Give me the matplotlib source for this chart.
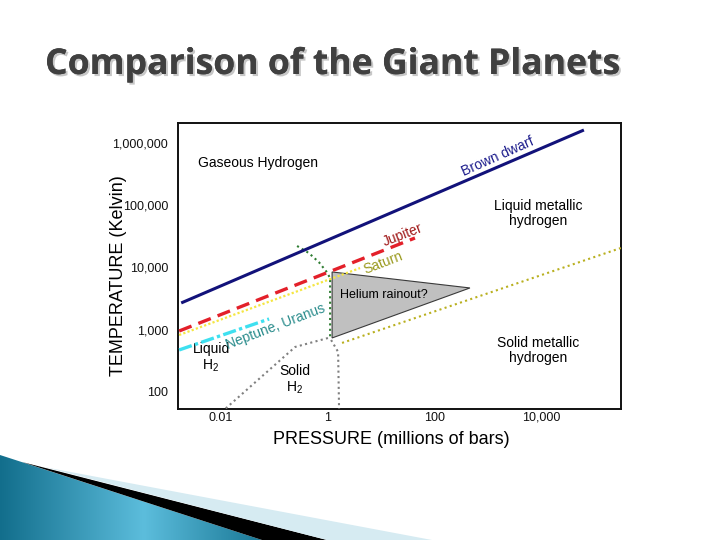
import numpy as np
import matplotlib
matplotlib.use("Agg")
import matplotlib.pyplot as plt
import matplotlib.patheffects as pe
from matplotlib.patches import Polygon

plt.rcParams['font.family'] = ['Liberation Sans', 'DejaVu Sans']
plt.rcParams['mathtext.fontset'] = 'custom'
plt.rcParams['mathtext.rm'] = 'Liberation Sans'
plt.rcParams['mathtext.it'] = 'Liberation Sans:italic'

# ---- data (pressure in millions of bars, temperature in K) ----
brown_P = [0.00186, 61300]
brown_T = [2680, 1.62e6]
jupiter_P = [0.0017, 43]
jupiter_T = [948, 29700]
saturn_P = [0.0017, 4.06]
saturn_T = [818, 9770]
neptune_P = [0.0017, 0.0813]
neptune_T = [470, 1480]
mol_met_P = [0.271, 0.45, 0.70, 0.95, 1.12, 1.12]
mol_met_T = [22100, 17000, 12000, 8600, 6760, 733]
helium_P = [1.22, 457, 1.22]
helium_T = [8440, 4670, 733]
solid_h2_P = [0.0106, 0.249, 1.03]
solid_h2_T = [47.3, 525, 733]
solid_met_P = [1.17, 1.58, 1.65]
solid_met_T = [680, 437, 47]
liq_sol_met_P = [1.87, 300000]
liq_sol_met_T = [610, 20500]

x_ticks = [0.01, 1, 100, 10000]
x_ticklabels = ['0.01', '1', '100', '10,000']
y_ticks = [100, 1000, 10000, 100000, 1000000]
y_ticklabels = ['100', '1,000', '10,000', '100,000', '1,000,000']

fig = plt.figure(figsize=(7.2, 5.4), dpi=100)
fig.patch.set_facecolor('white')

# ---- decoration (figure pixel coords) ----
deco = fig.add_axes([0, 0, 1, 1], zorder=0)
deco.set_xlim(0, 720)
deco.set_ylim(540, 0)
deco.axis('off')
teal_poly = Polygon([(0, 455), (262, 540), (0, 540)], closed=True,
                    facecolor='none', edgecolor='none')
deco.add_patch(teal_poly)
grad = np.linspace(0, 1, 300)
c_left = np.array([0x12, 0x6e, 0x8c]) / 255
c_mid = np.array([0x5c, 0xbd, 0xdc]) / 255
c_right = np.array([0x1a, 0x78, 0x96]) / 255
cols = np.zeros((1, 300, 3))
for i, g in enumerate(grad):
    if g < 0.55:
        t = g / 0.55
        cols[0, i] = c_left * (1 - t) + c_mid * t
    else:
        t = (g - 0.55) / 0.45
        cols[0, i] = c_mid * (1 - t) + c_right * t
im = deco.imshow(cols, extent=(0, 262, 540, 455), aspect='auto')
im.set_clip_path(teal_poly)
deco.add_patch(Polygon([(22, 462), (327, 540), (262, 540)], closed=True,
                       facecolor='black', edgecolor='none'))
deco.add_patch(Polygon([(44, 467), (432, 540), (327, 540)], closed=True,
                       facecolor='#d6ebf2', edgecolor='none'))
deco.set_xlim(0, 720)
deco.set_ylim(540, 0)

# ---- title ----
fig.text(45 / 720, 1 - 65 / 540, 'Comparison of the Giant Planets',
         family=['Open Sans', 'DejaVu Sans'], weight='bold', fontsize=25.6,
         color='#404040', ha='left', va='center',
         path_effects=[pe.withSimplePatchShadow(offset=(1.5, -1.5),
                                                shadow_rgbFace='#b0b0b0',
                                                alpha=0.7), pe.Normal()])

# ---- main axes ----
ax = fig.add_axes([178 / 720, 1 - 409 / 540, 443 / 720, 286 / 540], zorder=2)
ax.set_xscale('log')
ax.set_yscale('log')
ax.set_xlim(0.00162, 302000)
ax.set_ylim(52.8, 2.1e6)
ax.minorticks_off()
ax.set_xticks(x_ticks)
ax.set_xticklabels(x_ticklabels)
ax.set_yticks(y_ticks)
ax.set_yticklabels(y_ticklabels)
ax.tick_params(length=0, labelsize=9, colors='#111111')
ax.tick_params(axis='y', pad=7)
ax.tick_params(axis='x', pad=2)
for s in ax.spines.values():
    s.set_linewidth(1.4)
    s.set_color('#111111')

ax.fill(helium_P, helium_T, facecolor='#c0c0c0', edgecolor='#3a3a3a',
        linewidth=0.8, zorder=2)
ax.plot(solid_h2_P, solid_h2_T, color='#808080', lw=1.5,
        linestyle=(0, (1, 1.6)), zorder=3)
ax.plot(solid_met_P, solid_met_T, color='#808080', lw=1.5,
        linestyle=(0, (1, 1.6)), zorder=3)
ax.plot(liq_sol_met_P, liq_sol_met_T, color='#b9b020', lw=1.5,
        linestyle=(0, (1, 1.6)), zorder=3)
ax.plot(mol_met_P, mol_met_T, color='#2e7d32', lw=1.5,
        linestyle=(0, (1, 1.6)), zorder=3)
ax.plot(brown_P, brown_T, color='#12127a', lw=2.2, solid_capstyle='butt', zorder=4)
ax.plot(jupiter_P, jupiter_T, color='#e3202a', lw=2.4, dashes=(4, 2.2), zorder=4)
ax.plot(saturn_P, saturn_T, color='#f5e642', lw=1.6, linestyle=(0, (1, 1)), zorder=4)
ax.plot(neptune_P, neptune_T, color='#3ee0f0', lw=2.4, dashes=(4, 1, 1, 1), zorder=4)

T = ax.transAxes
ax.text(0.181, 0.860, 'Gaseous Hydrogen', transform=T, ha='center', va='center', fontsize=10)
ax.text(0.813, 0.685, 'Liquid metallic\nhydrogen', transform=T, ha='center', va='center',
        fontsize=10, linespacing=1.1)
ax.text(0.813, 0.206, 'Solid metallic\nhydrogen', transform=T, ha='center', va='center',
        fontsize=10, linespacing=1.1)
ax.text(0.465, 0.399, 'Helium rainout?', transform=T, ha='center', va='center', fontsize=9)
ax.text(0.0745, 0.178, 'Liquid\nH$_{\\mathrm{2}}$', transform=T, ha='center', va='center',
        fontsize=10, linespacing=1.1, multialignment='center')
ax.text(0.264, 0.101, 'Solid\nH$_{\\mathrm{2}}$', transform=T, ha='center', va='center',
        fontsize=10, linespacing=1.1, multialignment='center')
ax.text(0.722, 0.881, 'Brown dwarf', transform=T, ha='center', va='center', fontsize=10,
        color='#1c1c8c', rotation=24, rotation_mode='anchor')
ax.text(0.508, 0.610, 'Jupiter', transform=T, ha='center', va='center', fontsize=10,
        color='#a01818', rotation=21, rotation_mode='anchor')
ax.text(0.462, 0.510, 'Saturn', transform=T, ha='center', va='center', fontsize=10,
        color='#9a9a1e', rotation=21, rotation_mode='anchor')
ax.text(0.220, 0.288, 'Neptune, Uranus', transform=T, ha='center', va='center', fontsize=10,
        color='#2a8c8c', rotation=21, rotation_mode='anchor')

ax.set_xlabel('PRESSURE (millions of bars)', fontsize=13, va='center')
ax.xaxis.set_label_coords(0.482, -0.108)
ax.set_ylabel('TEMPERATURE (Kelvin)', fontsize=13, va='center')
ax.yaxis.set_label_coords(-0.135, 0.465)

fig.savefig('out.png', dpi=100, facecolor='white')
